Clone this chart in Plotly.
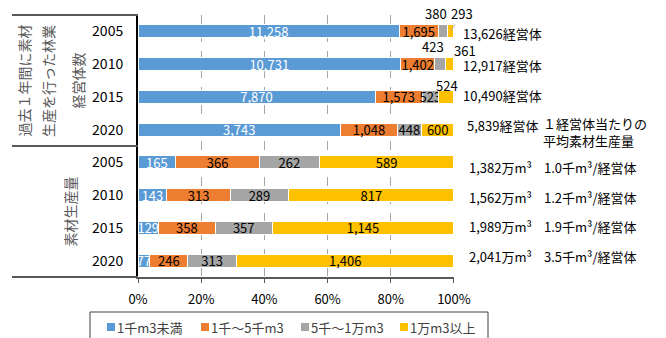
import plotly.graph_objects as go

# Stacked shares by size class: number of management bodies (top) and log production, 万m³ (bottom)
years = ["2005", "2010", "2015", "2020"]
series_names = ["1千m3未満", "1千～5千m3", "5千～1万m3", "1万m3以上"]
colors = ["#5B9BD5", "#ED7D31", "#A5A5A5", "#FFC000"]
pct_ticks = [0, 20, 40, 60, 80, 100]

units_lt1k = [11258, 10731, 7870, 3743]
units_1k_5k = [1695, 1402, 1573, 1048]
units_5k_10k = [380, 423, 523, 448]
units_ge10k = [293, 361, 524, 600]

vol_lt1k = [165, 143, 129, 77]
vol_1k_5k = [366, 313, 358, 246]
vol_5k_10k = [262, 289, 357, 313]
vol_ge10k = [589, 817, 1145, 1406]

total_units = [13626, 12917, 10490, 5839]
total_volume = [1382, 1562, 1989, 2041]
avg_per_body = [1.0, 1.2, 1.9, 3.5]

series = [
    units_lt1k + vol_lt1k,
    units_1k_5k + vol_1k_5k,
    units_5k_10k + vol_5k_10k,
    units_ge10k + vol_ge10k,
]
rows = list(range(len(years) * 2))
tick_text = years + years

FONT = "Noto Sans CJK JP, Noto Sans, sans-serif"

# plot area in pixels (used to place items outside the axes)
W, H = 666, 338
ML, MR, MT, MB = 138, 212, 15, 61
PW, PH = W - ML - MR, H - MT - MB


def px(x):
    return (x - ML) / PW


def py(y):
    return (H - MB - y) / PH


# segments whose value is written above the bar: (series, row) -> (dx, dy, leader line)
outside = {
    (2, 0): (-7, 18, False),
    (3, 0): (11, -18, True),
    (2, 1): (-7, 18, False),
    (3, 1): (15, 14, False),
    (3, 2): (1, 11, False),
}

fig = go.Figure()
for si, (name, vals, col) in enumerate(zip(series_names, series, colors)):
    texts = ["" if (si, r) in outside else f"{v:,}" for r, v in enumerate(vals)]
    fig.add_trace(go.Bar(
        name=name, y=rows, x=vals, orientation="h",
        marker=dict(color=col, line=dict(color="white", width=1)),
        text=texts, textposition="inside", insidetextanchor="middle",
        textangle=0, cliponaxis=False, showlegend=False,
        textfont=dict(color="white" if si == 0 else "black", size=13, family=FONT),
        hoverinfo="skip",
    ))

annotations = []

# labels drawn outside of thin segments
for (si, r), (dx, dy, leader) in outside.items():
    row_tot = sum(s[r] for s in series)
    start = sum(series[k][r] for k in range(si)) / row_tot * 100
    center = start + series[si][r] / row_tot * 50
    if leader:
        annotations.append(dict(
            x=center, y=r, xref="x", yref="y", text=f"{series[si][r]:,}",
            showarrow=True, arrowhead=0, arrowwidth=0.8, arrowcolor="#A0A0A0",
            ax=dx, ay=dy, standoff=1, font=dict(size=13, color="black", family=FONT),
        ))
    else:
        annotations.append(dict(
            x=center, y=r, xref="x", yref="y", text=f"{series[si][r]:,}",
            showarrow=False, xshift=dx, yshift=dy,
            font=dict(size=13, color="black", family=FONT),
        ))

# totals to the right of the bars
top_shift = [-2, -1, 1, 4]
bottom_shift = [-5, -2, 1, 4]
for i, t in enumerate(total_units):
    annotations.append(dict(
        x=px(502), y=i, xref="paper", yref="y", yshift=top_shift[i], text=f"{t:,}経営体",
        showarrow=False, xanchor="center", font=dict(size=13, color="black", family=FONT),
    ))
for i, (t, a) in enumerate(zip(total_volume, avg_per_body)):
    annotations.append(dict(
        x=px(500), y=i + 4, xref="paper", yref="y", yshift=bottom_shift[i], text=f"{t:,}万m³",
        showarrow=False, xanchor="center", font=dict(size=13, color="black", family=FONT),
    ))
    annotations.append(dict(
        x=px(590), y=i + 4, xref="paper", yref="y", yshift=bottom_shift[i],
        text=f"{a:.1f}千m³/経営体",
        showarrow=False, xanchor="center", font=dict(size=13, color="black", family=FONT),
    ))
annotations.append(dict(
    x=px(541), y=3, xref="paper", yref="y", yshift=-2,
    text="１経営体当たりの<br>平均素材生産量", align="left",
    showarrow=False, xanchor="left", yanchor="middle",
    font=dict(size=13, color="black", family=FONT),
))

# row-group headings, rotated
group_label_color = "#595959"
for xc, yp, txt in [
    (23, 0.75, "過去１年間に素材"),
    (47.5, 0.75, "生産を行った林業"),
    (77, 0.75, "経営体数"),
    (69, 0.25, "素材生産量"),
]:
    annotations.append(dict(
        x=px(xc), y=yp, xref="paper", yref="paper", text=txt, textangle=-90,
        showarrow=False, xanchor="center", yanchor="middle",
        font=dict(size=14, color=group_label_color, family=FONT),
    ))

# table rules on the left
line_col = "#595959"
shapes = []
for yv in [1, 0.5, 0]:
    shapes.append(dict(
        type="line", xref="paper", yref="paper", x0=px(12), x1=0, y0=yv, y1=yv,
        line=dict(color=line_col, width=2),
    ))

# legend box below the axis
legend_text_color = "#404040"
shapes.append(dict(
    type="rect", xref="paper", yref="paper", x0=px(90), x1=px(488), y0=py(312), y1=py(342),
    line=dict(color="#404040", width=1), fillcolor="rgba(0,0,0,0)", layer="above",
))
legend_x = [107, 201, 301, 400]
for name, col, lx in zip(series_names, colors, legend_x):
    shapes.append(dict(
        type="rect", xref="paper", yref="paper", x0=px(lx), x1=px(lx + 8),
        y0=py(331), y1=py(323), line=dict(width=0), fillcolor=col,
    ))
    annotations.append(dict(
        x=px(lx + 8), y=py(327), xref="paper", yref="paper", text=name,
        showarrow=False, xanchor="left", yanchor="middle",
        font=dict(size=13, color=legend_text_color, family=FONT),
    ))

fig.update_layout(
    width=W, height=H,
    margin=dict(l=ML, r=MR, t=MT, b=MB, autoexpand=False),
    barmode="stack", barnorm="percent", bargap=0.6,
    plot_bgcolor="white", paper_bgcolor="white",
    font=dict(family=FONT, size=13, color="black"),
    uniformtext=dict(minsize=13, mode="show"),
    showlegend=False,
    annotations=annotations,
    shapes=shapes,
)
fig.update_xaxes(
    range=[0, 100.01], tickvals=pct_ticks, ticktext=[f"{v}%" for v in pct_ticks],
    showgrid=True, gridcolor="#A6A6A6", griddash="dash", gridwidth=1,
    zeroline=False, showline=True, linecolor=line_col, linewidth=1.5,
    ticks="outside", ticklen=4, tickcolor=line_col, ticklabelstandoff=6,
    tickfont=dict(size=13, color="black", family=FONT),
)
fig.update_yaxes(
    range=[7.5, -0.5], tickvals=rows, ticktext=tick_text,
    showgrid=False, zeroline=False, showline=True, linecolor="black", linewidth=2,
    ticks="", ticklabelstandoff=10,
    tickfont=dict(size=14, color="black", family=FONT),
)

fig.write_html("out.html")
